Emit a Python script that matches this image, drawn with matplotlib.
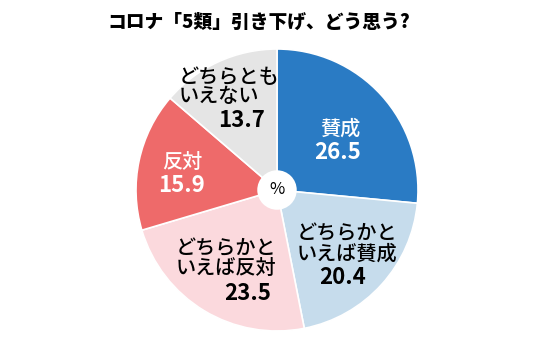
import matplotlib.pyplot as plt

plt.rcParams['font.family'] = ['Noto Sans CJK JP', 'DejaVu Sans']

title = 'コロナ「5類」引き下げ、どう思う?'
labels = ['賛成', 'どちらかと\nいえば賛成', 'どちらかと\nいえば反対', '反対', 'どちらとも\nいえない']
values = [26.5, 20.4, 23.5, 15.9, 13.7]
colours = ['#2a7bc4', '#c6dcec', '#fbd9dd', '#ee6a6a', '#e5e5e5']
textColours = ['white', 'black', 'black', 'white', 'black']

# label / number positions in pixels of the 550x342 picture (label anchor, number centre)
labelPos = [(340, 129), (297, 244), (176, 259), (182, 162), (179, 87)]
labelAlign = ['center', 'left', 'left', 'center', 'left']
numberPos = [(338, 153), (343, 278), (248, 294), (181, 186), (242, 121)]

fig = plt.figure(figsize=(5.5, 3.42), dpi=100)
fig.text(259 / 550, 1 - 22 / 342, title, ha='center', va='center', fontsize=13.5, fontweight='black')

cx, cy, r = 277, 190, 141
ax = fig.add_axes([(cx - r) / 550, (342 - cy - r) / 342, 2 * r / 550, 2 * r / 342])
ax.pie(values, colors=colours, startangle=90, counterclock=False,
       wedgeprops={'edgecolor': 'white', 'linewidth': 1.2})
ax.add_patch(plt.Circle((0, 0), 0.14, facecolor='white', edgecolor='none', zorder=5))
ax.text(0, 0, '%', ha='center', va='center', fontsize=12, zorder=6)
ax.set_xlim(-1, 1)
ax.set_ylim(-1, 1)
ax.set_aspect('equal')
ax.axis('off')


def toData(p):
    return (p[0] - cx) / r, (cy - p[1]) / r


for lab, val, tc, lp, la, npos in zip(labels, values, textColours, labelPos, labelAlign, numberPos):
    x, y = toData(lp)
    ax.text(x, y, lab, ha=la, va='center', fontsize=14.5, fontweight='medium', color=tc,
            linespacing=1.05, zorder=7)
    x, y = toData(npos)
    ax.text(x, y, '{:.1f}'.format(val), ha='center', va='center', fontsize=16,
            fontweight='bold', color=tc, zorder=7)

fig.savefig('out.png', dpi=100)
